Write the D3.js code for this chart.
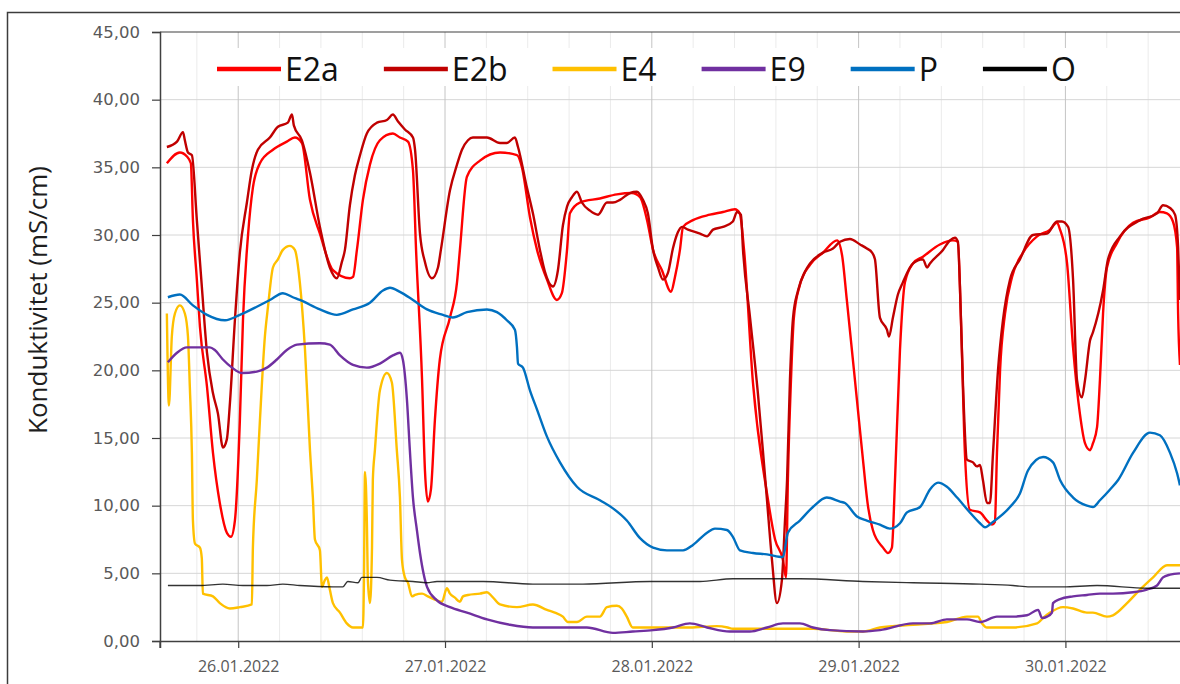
<!DOCTYPE html>
<html><head><meta charset="utf-8">
<script src="https://cdn.jsdelivr.net/npm/d3@7"></script>
<style>html,body{margin:0;padding:0;background:#fff;}svg{display:block;}</style>
</head><body>
<svg id="c" width="1180" height="684"></svg>
<script>
(function(){
// time = day of January 2022 (decimal), value = mS/cm
const seriesNames = ["E2a","E2b","E4","E9","P","O"];
const seriesColors = ["#FF0000","#C00000","#FFC000","#7030A0","#0070C0","#000000"];
const yTicks = [0,5,10,15,20,25,30,35,40,45];
const dayTicks = [26,27,28,29,30];
const minorStep = 0.2;

const e2a = [[25.655,35.3],[25.718,36.1],[25.752,35.8],[25.771,35.3],[25.781,31.1],[25.800,26.7],[25.815,23.2],[25.849,18.8],[25.878,13.9],[25.911,10.2],[25.945,8.0],[25.965,7.7],[25.984,8.9],[26.008,16.3],[26.023,23.7],[26.047,29.9],[26.071,33.5],[26.105,35.3],[26.168,36.3],[26.235,36.9],[26.274,37.2],[26.308,36.8],[26.347,32.6],[26.395,30.1],[26.458,27.4],[26.540,26.8],[26.555,26.9],[26.574,28.9],[26.603,32.6],[26.637,35.2],[26.685,37.0],[26.748,37.5],[26.782,37.2],[26.821,36.9],[26.845,34.8],[26.860,28.9],[26.889,19.3],[26.903,12.6],[26.917,10.3],[26.932,11.2],[26.951,16.3],[26.975,20.8],[27.024,23.9],[27.058,26.5],[27.072,28.9],[27.106,34.3],[27.169,35.5],[27.266,36.1],[27.348,35.9],[27.372,35.0],[27.411,31.3],[27.445,28.9],[27.493,26.7],[27.541,25.2],[27.565,25.7],[27.590,28.9],[27.604,31.6],[27.652,32.4],[27.749,32.7],[27.831,33.0],[27.904,33.1],[27.943,32.8],[27.977,31.1],[28.006,28.9],[28.049,27.4],[28.093,25.8],[28.112,26.9],[28.136,28.9],[28.151,30.6],[28.199,31.1],[28.281,31.5],[28.344,31.7],[28.402,31.9],[28.425,31.6],[28.446,28.9],[28.489,19.1],[28.557,10.9],[28.596,7.5],[28.634,6.0],[28.649,4.7],[28.658,11.9],[28.673,19.3],[28.687,23.9],[28.716,26.3],[28.765,27.8],[28.828,28.7],[28.896,29.6],[28.920,28.5],[28.943,25.2],[28.992,17.8],[29.021,13.4],[29.045,10.0],[29.069,8.2],[29.118,6.9],[29.142,6.5],[29.161,6.9],[29.176,11.9],[29.200,21.5],[29.224,26.5],[29.263,27.9],[29.311,28.4],[29.393,29.3],[29.456,29.6],[29.480,29.5],[29.495,23.7],[29.514,13.9],[29.538,9.7],[29.587,9.5],[29.621,8.9],[29.645,8.6],[29.659,8.8],[29.669,13.9],[29.684,20.0],[29.708,24.2],[29.742,26.9],[29.795,28.7],[29.863,29.9],[29.926,30.4],[29.959,30.9],[29.974,30.4],[30.008,27.9],[30.037,21.7],[30.070,16.8],[30.095,14.6],[30.119,14.1],[30.133,14.6],[30.153,15.8],[30.167,19.3],[30.182,24.2],[30.201,27.6],[30.249,29.4],[30.327,30.9],[30.409,31.3],[30.457,31.7],[30.491,31.6],[30.520,31.0],[30.540,29.1],[30.545,24.2],[30.554,20.4]];

const e2b = [[25.655,36.5],[25.704,36.9],[25.733,37.6],[25.742,37.0],[25.757,36.1],[25.776,35.9],[25.800,31.1],[25.824,26.2],[25.849,21.3],[25.878,18.3],[25.902,16.8],[25.926,14.3],[25.945,14.9],[25.960,17.6],[25.984,23.7],[26.008,28.7],[26.042,32.4],[26.066,34.8],[26.095,36.3],[26.153,37.2],[26.192,38.0],[26.240,38.3],[26.260,38.9],[26.269,38.1],[26.308,37.0],[26.347,34.6],[26.395,30.6],[26.443,27.6],[26.477,26.8],[26.501,28.0],[26.516,28.9],[26.540,32.2],[26.564,34.4],[26.589,35.9],[26.622,37.5],[26.671,38.3],[26.719,38.5],[26.748,38.9],[26.772,38.4],[26.806,37.8],[26.845,37.2],[26.855,36.3],[26.879,30.1],[26.903,28.0],[26.937,26.8],[26.966,27.6],[26.980,28.9],[27.024,33.3],[27.058,35.2],[27.082,36.3],[27.111,37.0],[27.135,37.2],[27.203,37.2],[27.266,36.8],[27.299,36.8],[27.338,37.2],[27.353,36.5],[27.396,33.5],[27.425,31.6],[27.459,28.9],[27.483,27.3],[27.522,26.2],[27.546,27.4],[27.570,30.7],[27.590,32.1],[27.614,32.8],[27.638,33.2],[27.662,32.4],[27.701,31.8],[27.740,31.5],[27.783,32.4],[27.812,32.4],[27.846,32.6],[27.894,33.1],[27.928,33.2],[27.957,32.6],[27.981,31.6],[28.006,28.9],[28.030,27.6],[28.054,26.7],[28.078,27.2],[28.102,29.0],[28.126,30.2],[28.146,30.6],[28.175,30.4],[28.233,30.1],[28.267,29.9],[28.296,30.4],[28.344,30.6],[28.392,31.0],[28.412,31.7],[28.431,31.5],[28.441,28.9],[28.475,23.9],[28.513,18.3],[28.537,14.1],[28.557,10.4],[28.581,6.0],[28.605,2.8],[28.629,4.5],[28.644,8.9],[28.654,11.9],[28.668,19.3],[28.683,23.9],[28.707,25.9],[28.741,27.3],[28.765,27.9],[28.828,28.7],[28.876,29.0],[28.910,29.5],[28.958,29.7],[29.007,29.3],[29.040,29.0],[29.065,28.7],[29.079,28.2],[29.103,23.9],[29.137,23.0],[29.147,22.5],[29.166,23.9],[29.190,25.6],[29.214,26.5],[29.263,27.9],[29.311,28.2],[29.331,27.6],[29.345,27.9],[29.408,28.9],[29.442,29.6],[29.466,29.8],[29.480,29.5],[29.490,26.2],[29.505,18.8],[29.524,13.4],[29.553,13.2],[29.572,12.9],[29.587,13.0],[29.601,11.9],[29.621,10.2],[29.635,10.2],[29.650,13.9],[29.674,20.0],[29.698,23.7],[29.732,26.7],[29.780,28.2],[29.843,30.0],[29.911,30.1],[29.959,31.0],[29.983,31.0],[30.013,30.6],[30.037,26.7],[30.056,19.3],[30.080,18.0],[30.095,19.3],[30.119,22.2],[30.133,22.8],[30.182,25.9],[30.206,28.2],[30.264,29.9],[30.361,31.1],[30.443,31.6],[30.472,32.2],[30.506,32.0],[30.530,31.5],[30.545,29.1],[30.554,25.2]];

const e4 = [[25.655,24.2],[25.665,17.4],[25.679,22.5],[25.694,24.2],[25.718,24.8],[25.742,24.2],[25.757,22.5],[25.766,18.8],[25.776,13.9],[25.781,8.9],[25.791,7.2],[25.815,6.9],[25.824,6.1],[25.829,3.5],[25.878,3.3],[25.911,2.8],[25.960,2.4],[26.008,2.5],[26.066,2.7],[26.071,6.9],[26.090,11.9],[26.105,16.3],[26.129,22.5],[26.144,24.7],[26.168,27.6],[26.192,28.2],[26.216,28.9],[26.250,29.2],[26.274,28.9],[26.298,26.5],[26.323,21.5],[26.347,14.1],[26.361,10.6],[26.371,7.5],[26.395,6.7],[26.405,4.0],[26.419,4.5],[26.429,4.7],[26.443,3.8],[26.458,2.8],[26.492,2.1],[26.525,1.3],[26.555,1.0],[26.603,1.0],[26.608,4.5],[26.613,12.5],[26.622,8.9],[26.627,4.5],[26.637,2.8],[26.647,6.9],[26.651,11.9],[26.661,14.1],[26.685,18.5],[26.719,19.8],[26.743,19.1],[26.767,14.1],[26.782,10.6],[26.792,6.0],[26.806,4.7],[26.821,4.3],[26.840,3.3],[26.855,3.4],[26.889,3.5],[26.917,3.3],[26.961,3.0],[26.985,2.9],[27.009,3.9],[27.024,3.5],[27.048,3.2],[27.072,2.9],[27.087,3.3],[27.111,3.4],[27.169,3.5],[27.203,3.6],[27.227,3.3],[27.266,2.7],[27.348,2.5],[27.425,2.7],[27.493,2.3],[27.531,2.1],[27.570,1.8],[27.594,1.4],[27.638,1.4],[27.686,1.8],[27.749,1.8],[27.783,2.5],[27.831,2.6],[27.855,2.4],[27.879,1.8],[27.908,1.0],[27.943,1.0],[28.073,1.0],[28.184,1.0],[28.314,1.1],[28.367,1.0],[28.392,0.9],[28.557,0.9],[28.716,0.9],[28.779,0.9],[28.943,0.7],[29.021,0.7],[29.103,1.0],[29.263,1.2],[29.427,1.4],[29.524,1.8],[29.577,1.8],[29.597,1.3],[29.621,1.0],[29.746,1.0],[29.863,1.3],[29.892,1.7],[29.926,2.1],[29.988,2.5],[30.037,2.4],[30.104,2.1],[30.133,2.1],[30.201,1.8],[30.230,1.9],[30.298,2.8],[30.361,3.8],[30.424,4.7],[30.491,5.6],[30.554,5.6]];

const e9 = [[25.660,20.6],[25.704,21.3],[25.752,21.7],[25.800,21.7],[25.863,21.7],[25.887,21.5],[25.926,20.8],[25.970,20.2],[26.018,19.8],[26.090,19.9],[26.139,20.2],[26.187,20.8],[26.235,21.5],[26.284,21.9],[26.395,22.0],[26.443,21.9],[26.492,21.1],[26.555,20.4],[26.622,20.2],[26.685,20.5],[26.748,21.1],[26.782,21.3],[26.796,20.8],[26.816,17.8],[26.830,14.1],[26.845,10.6],[26.864,8.2],[26.879,6.5],[26.913,4.0],[26.961,3.0],[27.024,2.5],[27.106,2.1],[27.203,1.6],[27.314,1.2],[27.425,1.0],[27.590,1.0],[27.686,1.0],[27.812,0.6],[27.908,0.7],[28.006,0.8],[28.102,1.0],[28.184,1.3],[28.267,1.0],[28.377,0.7],[28.474,0.7],[28.557,1.0],[28.634,1.3],[28.716,1.3],[28.779,1.0],[28.861,0.8],[29.021,0.7],[29.103,0.8],[29.263,1.3],[29.345,1.3],[29.427,1.6],[29.524,1.6],[29.587,1.4],[29.669,1.8],[29.746,1.8],[29.814,1.9],[29.868,2.3],[29.887,1.7],[29.911,1.8],[29.935,2.1],[29.940,2.8],[29.974,3.1],[30.037,3.3],[30.104,3.4],[30.167,3.5],[30.230,3.5],[30.327,3.6],[30.394,3.8],[30.443,4.1],[30.472,4.7],[30.506,4.9],[30.554,5.0]];

const p = [[25.660,25.4],[25.718,25.6],[25.781,24.8],[25.849,24.1],[25.936,23.7],[26.008,24.1],[26.090,24.7],[26.153,25.2],[26.216,25.7],[26.264,25.4],[26.298,25.2],[26.395,24.5],[26.477,24.1],[26.555,24.5],[26.637,25.0],[26.700,25.9],[26.734,26.1],[26.782,25.8],[26.845,25.2],[26.913,24.5],[26.990,24.1],[27.038,23.9],[27.106,24.3],[27.203,24.5],[27.251,24.3],[27.299,23.7],[27.338,23.0],[27.348,21.7],[27.353,20.5],[27.377,20.2],[27.411,18.5],[27.445,17.1],[27.493,15.1],[27.556,13.2],[27.638,11.4],[27.749,10.4],[27.812,9.8],[27.879,8.9],[27.943,7.6],[28.006,6.9],[28.073,6.7],[28.151,6.7],[28.199,7.1],[28.267,8.0],[28.305,8.3],[28.363,8.2],[28.392,7.7],[28.426,6.7],[28.489,6.5],[28.557,6.4],[28.634,6.2],[28.658,8.0],[28.716,8.9],[28.779,9.9],[28.846,10.6],[28.910,10.3],[28.934,10.2],[28.992,9.2],[29.040,8.9],[29.103,8.6],[29.151,8.3],[29.200,8.7],[29.234,9.5],[29.297,9.9],[29.345,11.2],[29.384,11.7],[29.427,11.4],[29.476,10.6],[29.538,9.5],[29.587,8.7],[29.611,8.4],[29.650,8.8],[29.732,9.9],[29.780,10.9],[29.819,12.6],[29.892,13.6],[29.940,13.2],[29.974,11.9],[30.037,10.6],[30.104,10.0],[30.133,9.9],[30.167,10.4],[30.216,11.2],[30.255,11.9],[30.327,13.9],[30.409,15.4],[30.457,15.2],[30.506,13.9],[30.540,12.4],[30.554,11.5]];

const o = [[25.660,4.1],[25.815,4.1],[25.926,4.2],[26.023,4.1],[26.139,4.1],[26.216,4.2],[26.298,4.1],[26.458,4.0],[26.506,4.0],[26.530,4.4],[26.579,4.3],[26.598,4.7],[26.671,4.7],[26.734,4.5],[26.845,4.4],[26.913,4.3],[26.961,4.4],[27.106,4.4],[27.184,4.4],[27.425,4.2],[27.667,4.2],[27.990,4.4],[28.233,4.4],[28.392,4.6],[28.716,4.6],[29.021,4.4],[29.263,4.3],[29.587,4.2],[29.746,4.1],[29.828,4.0],[29.988,4.0],[30.153,4.1],[30.394,3.9],[30.554,3.9]];

const allSeries = [e2a, e2b, e4, e9, p, o];

// ---- drawing ----
const svg = d3.select("#c");
const W = 1180, H = 684;
const toDate = t => new Date(Date.UTC(2022,0,1) + (t-1)*864e5);
const xStart = 25.6218, pxPerDay = 206.8;
const pL = 160, pR = 1190, pT = 32, pB = 641;
const x = d3.scaleUtc().domain([toDate(xStart), toDate(xStart + (pR-pL)/pxPerDay)]).range([pL, pR]);
const y = d3.scaleLinear().domain([0,45]).range([pB, pT]);

svg.append("rect").attr("width",W).attr("height",H).attr("fill","#fff");
// outer chart border
svg.append("rect").attr("x",7.5).attr("y",12.5).attr("width",1300).attr("height",800)
  .attr("fill","none").attr("stroke","#3c3c3c").attr("stroke-width",1.5);

// minor vertical grid
const minorTicks = [];
for (let t = 25.8; t < 30.7; t += minorStep) { if (Math.abs(t - Math.round(t)) > 0.01) minorTicks.push(t); }
svg.append("g").selectAll("line").data(minorTicks).join("line")
  .attr("x1", d=>x(toDate(d))).attr("x2", d=>x(toDate(d)))
  .attr("y1", pT).attr("y2", pB).attr("stroke","#ebebeb").attr("stroke-width",1);
// horizontal grid
svg.append("g").selectAll("line").data(yTicks.filter(v=>v>0 && v<45)).join("line")
  .attr("x1", pL).attr("x2", pR).attr("y1", d=>y(d)).attr("y2", d=>y(d))
  .attr("stroke","#d6d6d6").attr("stroke-width",1);
// major vertical grid
svg.append("g").selectAll("line").data(dayTicks).join("line")
  .attr("x1", d=>x(toDate(d))).attr("x2", d=>x(toDate(d)))
  .attr("y1", pT).attr("y2", pB).attr("stroke","#c4c4c4").attr("stroke-width",1);
// top border of plot
svg.append("line").attr("x1",pL).attr("x2",pR).attr("y1",pT).attr("y2",pT)
  .attr("stroke","#404040").attr("stroke-width",1.2);

// y axis
const yAxis = d3.axisLeft(y).tickValues(yTicks).tickSize(8).tickPadding(12)
  .tickFormat(d => d3.format(".2f")(d).replace(".", ","));
const gy = svg.append("g").attr("transform",`translate(${pL},0)`).call(yAxis);
gy.select(".domain").attr("stroke","#404040").attr("stroke-width",1.5);
gy.selectAll(".tick line").attr("stroke","#404040").attr("stroke-width",1.2);
gy.selectAll("text").attr("fill","#595959").style("font-family","'DejaVu Sans', sans-serif").style("font-size","16.5px");

// x axis
const xAxis = d3.axisBottom(x).tickValues(dayTicks.map(toDate)).tickSize(7).tickPadding(13)
  .tickFormat(d3.utcFormat("%d.%m.%Y"));
const gx = svg.append("g").attr("transform",`translate(0,${pB})`).call(xAxis);
gx.select(".domain").attr("stroke","#404040").attr("stroke-width",1.5);
gx.selectAll(".tick line").attr("stroke","#404040").attr("stroke-width",1.2);
gx.selectAll("text").attr("fill","#595959").style("font-family","'Open Sans', sans-serif").style("font-size","16px");
gx.append("line").attr("x1",pL).attr("x2",pL).attr("y1",0).attr("y2",7).attr("stroke","#404040").attr("stroke-width",1.2);

// y title
svg.append("text").attr("transform","translate(47,300) rotate(-90)")
  .attr("text-anchor","middle").attr("fill","#1e1e1e")
  .style("font-family","'Open Sans', sans-serif").style("font-size","26px")
  .text("Konduktivitet (mS/cm)");

// series
const plot = svg.append("g");
const line = d3.line().x(d=>x(toDate(d[0]))).y(d=>y(d[1])).curve(d3.curveMonotoneX);
allSeries.forEach((s,i) => {
  plot.append("path").datum(s).attr("d", line).attr("fill","none")
    .attr("stroke", seriesColors[i])
    .attr("stroke-width", seriesNames[i]==="O" ? 1.4 : 2.4)
    .attr("stroke-opacity", seriesNames[i]==="O" ? 0.8 : 1)
    .attr("stroke-linejoin","round");
});

// legend
const leg = svg.append("g");
leg.append("rect").attr("x",205).attr("y",48).attr("width",910).attr("height",38).attr("fill","#fff");
let lx = 217;
seriesNames.forEach((n,i) => {
  leg.append("line").attr("x1",lx).attr("x2",lx+64).attr("y1",69).attr("y2",69)
    .attr("stroke",seriesColors[i]).attr("stroke-width",4.5);
  const t = leg.append("text").attr("x",lx+68).attr("y",81).attr("fill","#111")
    .style("font-family","'Open Sans', sans-serif").style("font-size","32px").text(n);
  lx = lx + 68 + t.node().getComputedTextLength() + 45;
});
})();
</script>
</body></html>
